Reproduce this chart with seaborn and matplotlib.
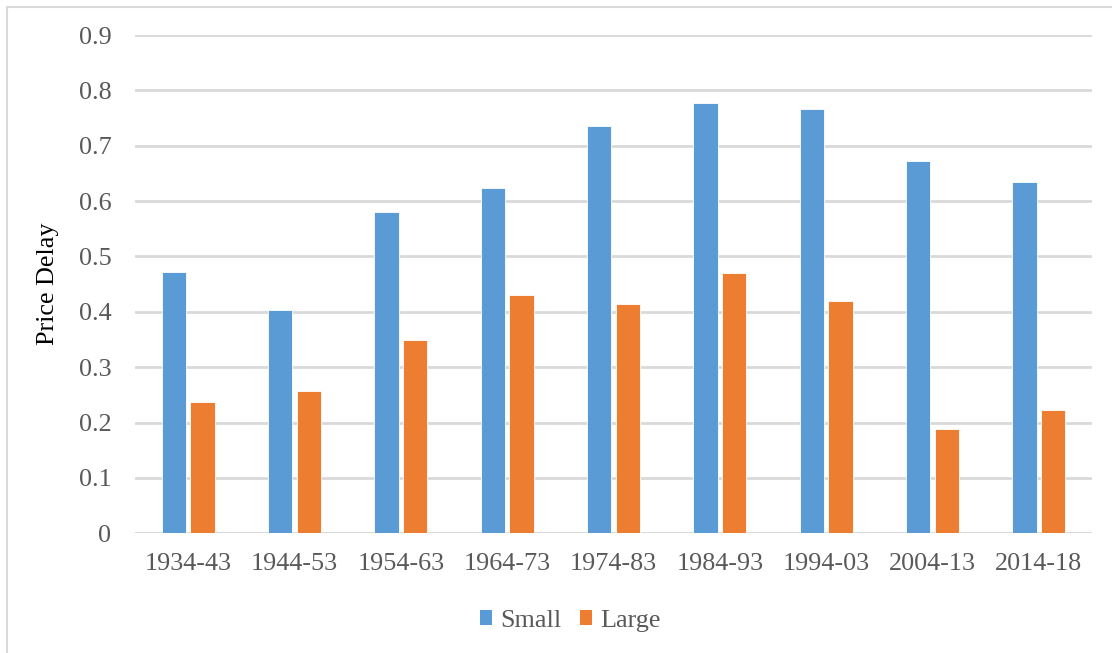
import matplotlib
matplotlib.use("Agg")
import matplotlib.pyplot as plt
from matplotlib.patches import Patch
from matplotlib.lines import Line2D
import seaborn as sns
import pandas as pd

periods = ["1934-43", "1944-53", "1954-63", "1964-73", "1974-83",
           "1984-93", "1994-03", "2004-13", "2014-18"]
small = [0.472, 0.403, 0.581, 0.623, 0.735, 0.777, 0.766, 0.673, 0.634]
large = [0.238, 0.257, 0.349, 0.430, 0.415, 0.470, 0.420, 0.188, 0.223]
series = ["Small", "Large"]
colors = ["#5B9BD5", "#ED7D31"]
yticks = [0, 0.1, 0.2, 0.3, 0.4, 0.5, 0.6, 0.7, 0.8, 0.9]
ylabel = "Price Delay"

df = pd.DataFrame({
    "period": periods * 2,
    "size": [series[0]] * len(periods) + [series[1]] * len(periods),
    "delay": small + large,
})

sns.set_theme(style="white")
plt.rcParams["font.family"] = ["Liberation Serif", "DejaVu Serif"]

W, H = 1112, 653
fig = plt.figure(figsize=(W / 100, H / 100), dpi=100)
ax = fig.add_axes([135 / W, 1 - 533.3 / H, (1092 - 135) / W, (533.3 - 35) / H])

sns.barplot(data=df, x="period", y="delay", hue="size", order=periods,
            hue_order=series, palette=colors, width=0.54, gap=0.16,
            saturation=1, edgecolor="white", linewidth=0.6,
            legend=False, ax=ax, zorder=3)

ax.set_ylim(0, 0.9)
ax.set_xlim(-0.5, len(periods) - 0.5)
ax.set_yticks(yticks)
ax.set_yticklabels([f"{t:g}" for t in yticks])
ax.yaxis.grid(True, color="#D9D9D9", linewidth=2.0)
ax.set_axisbelow(True)
for s in ax.spines.values():
    s.set_visible(False)
ax.axhline(0, color="#D9D9D9", linewidth=2.0, zorder=2)

ax.tick_params(axis="y", length=0, pad=17, labelsize=18.8, labelcolor="#595959")
ax.tick_params(axis="x", length=0, pad=14, labelsize=18.8, labelcolor="#595959")
ax.set_xlabel("")
ax.set_ylabel(ylabel, fontsize=18.8, color="black", labelpad=14)

handles = [Patch(facecolor=c, edgecolor="none", label=s) for c, s in zip(colors, series)]
fig.legend(handles=handles, loc="center", bbox_to_anchor=(570 / W, 1 - 621 / H),
           ncol=2, frameon=False, fontsize=18.8, handlelength=0.48,
           handleheight=0.48, handletextpad=0.3, columnspacing=0.7,
           labelcolor="#595959")

# chart-area frame (left and top edges)
fig.add_artist(Line2D([7 / W, 7 / W], [0, 1 - 7 / H], transform=fig.transFigure,
                      color="#D9D9D9", linewidth=1.5))
fig.add_artist(Line2D([7 / W, 1], [1 - 7 / H, 1 - 7 / H], transform=fig.transFigure,
                      color="#D9D9D9", linewidth=1.5))

fig.savefig("out.png", dpi=100)
